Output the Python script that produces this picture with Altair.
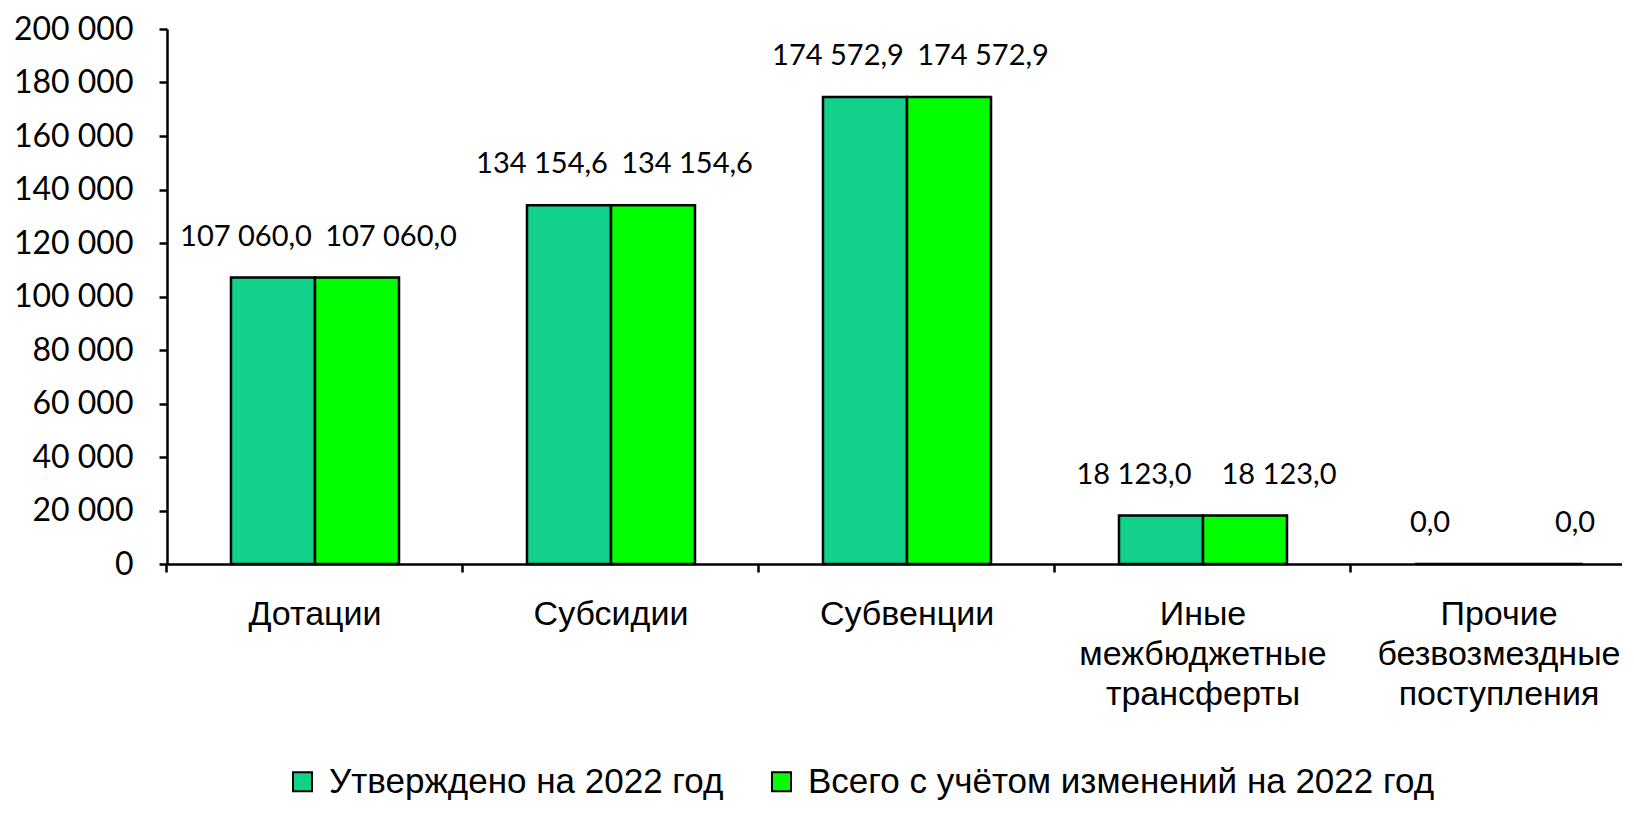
import altair as alt
import pandas as pd

categories = [
    "Дотации",
    "Субсидии",
    "Субвенции",
    "Иные межбюджетные трансферты",
    "Прочие безвозмездные поступления",
]
series_names = ["Утверждено на 2022 год", "Всего с учётом изменений  на 2022 год"]
approved = [107060.0, 134154.6, 174572.9, 18123.0, 0.0]
revised = [107060.0, 134154.6, 174572.9, 18123.0, 0.0]
y_ticks = [0, 20000, 40000, 60000, 80000, 100000, 120000, 140000, 160000, 180000, 200000]
colors = ["#11D08A", "#00FF00"]

rows = []
for c, a, r in zip(categories, approved, revised):
    rows.append({"category": c, "series": series_names[0], "value": a})
    rows.append({"category": c, "series": series_names[1], "value": r})
df = pd.DataFrame(rows)

x_enc = alt.X(
    "category:N",
    sort=categories,
    scale=alt.Scale(range=[0, 1480], paddingInner=0.4324, paddingOuter=0.2162),
    axis=alt.Axis(
        title=None,
        labelAngle=0,
        labelExpr="split(datum.label, ' ')",
        labelFont="Liberation Sans",
        labelFontSize=34,
        labelLineHeight=40,
        labelBaseline="top",
        labelPadding=25,
        labelColor="black",
        labelLimit=600,
        tickSize=8,
        tickWidth=2.5,
        tickColor="black",
        domainColor="black",
        domainWidth=2.5,
        bandPosition=-0.381,
        grid=False,
    ),
)
y_enc = alt.Y(
    "value:Q",
    scale=alt.Scale(domain=[0, 200000], nice=False),
    axis=alt.Axis(
        title=None,
        values=y_ticks,
        format=",.0f",
        labelFont="Lato",
        labelFontSize=32,
        labelPadding=26,
        labelColor="black",
        tickSize=8,
        tickWidth=2.5,
        tickColor="black",
        domainColor="black",
        domainWidth=2.5,
        grid=False,
    ),
)
xoff = alt.XOffset("series:N", sort=series_names, scale=alt.Scale(paddingInner=0, paddingOuter=0))

base = alt.Chart(df)

bars = base.mark_bar(stroke="black", strokeWidth=2.5).encode(
    x=x_enc,
    y=y_enc,
    xOffset=xoff,
    color=alt.Color(
        "series:N",
        sort=series_names,
        scale=alt.Scale(domain=series_names, range=colors),
        legend=alt.Legend(
            title=None,
            orient="none",
            legendX=118,
            legendY=735,
            direction="horizontal",
            symbolType="square",
            symbolSize=361,
            symbolStrokeColor="black",
            symbolStrokeWidth=2,
            labelFont="Liberation Sans",
            labelFontSize=35,
            labelColor="black",
            labelLimit=1000,
            labelOffset=9,
            columnPadding=40,
            padding=0,
        ),
    ),
)

def labels(name, dx):
    return base.transform_filter(alt.datum.series == name).mark_text(
        font="Lato", fontSize=29, color="black", baseline="middle", dx=dx, dy=-41
    ).encode(
        x=alt.X("category:N", sort=categories),
        y=alt.Y("value:Q"),
        xOffset=alt.XOffset("series:N", sort=series_names),
        text=alt.Text("value:Q", format=",.1f"),
    )

chart = alt.layer(bars, labels(series_names[0], -27), labels(series_names[1], 34)).properties(
    width=1455,
    height=535,
    autosize=alt.AutoSizeParams(type="none"),
    padding={"left": 159, "top": 21, "right": 0, "bottom": 240},
).configure(
    locale=alt.Locale(
        number=alt.NumberLocale(decimal=",", thousands="\u00a0", grouping=[3], currency=["", ""])
    )
).configure_view(stroke=None)

chart.save("out.html", embed_options={"renderer": "svg", "actions": False})
